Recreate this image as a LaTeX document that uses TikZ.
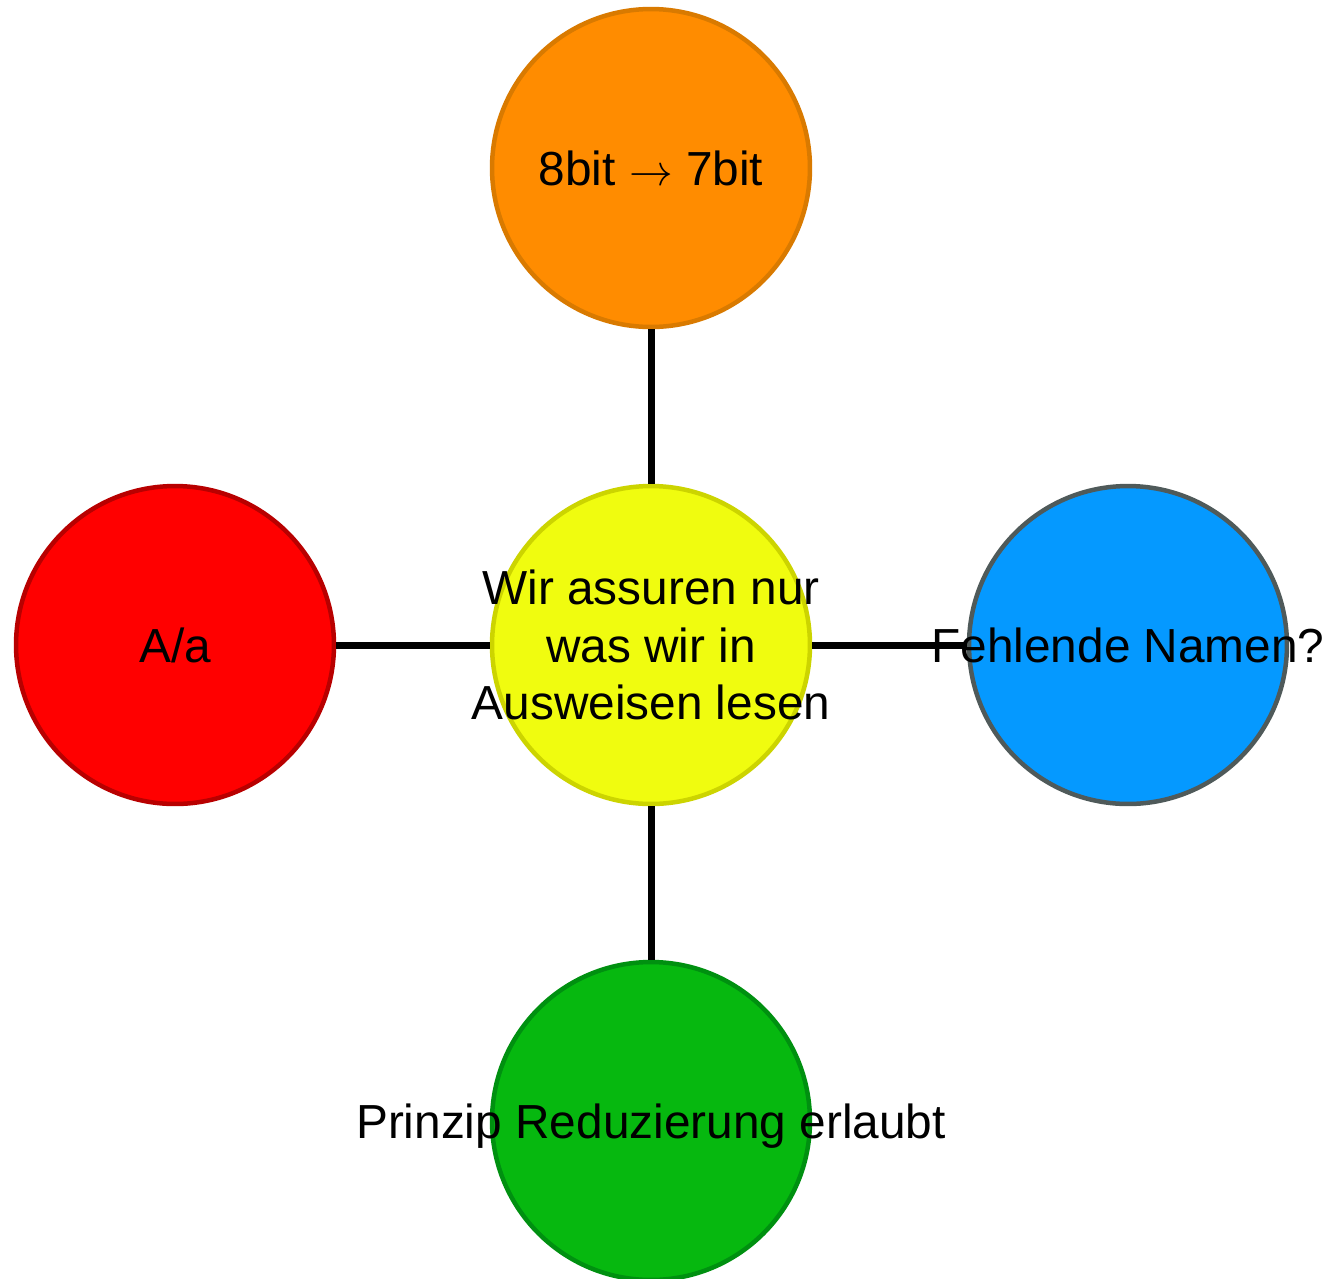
\documentclass[tikz,border=0pt]{standalone}
\usepackage{fontspec}
\setmainfont{Liberation Sans}
\definecolor{orangefill}{HTML}{FF8C00}
\definecolor{orangeline}{HTML}{D97A00}
\definecolor{redfill}{HTML}{FF0000}
\definecolor{redline}{HTML}{B80000}
\definecolor{yellowfill}{HTML}{F0FC0F}
\definecolor{yellowline}{HTML}{CCD400}
\definecolor{bluefill}{HTML}{0599FF}
\definecolor{blueline}{HTML}{4F5A5A}
\definecolor{greenfill}{HTML}{06B80F}
\definecolor{greenline}{HTML}{009010}

\begin{document}
\begin{tikzpicture}[x=0.02cm,y=-0.02cm,
  bubble/.style={circle,minimum size=6.36cm,inner sep=0pt,line width=0.09cm},
  txt/.style={font=\fontsize{27.2pt}{32.5pt}\selectfont,align=center},
  link/.style={line width=0.14cm}]
\useasboundingbox (0,0) rectangle (1330,1279);
\node (mid) [bubble,fill=yellowfill,draw=yellowline,label={[txt]center:Wir assuren nur\\was wir in\\Ausweisen lesen}] at (651,645) {} ;
\node (top) [bubble,fill=orangefill,draw=orangeline,label={[txt]center:8bit $\rightarrow$ 7bit}] at (651,168) {} ;
\node (left) [bubble,fill=redfill,draw=redline,label={[txt]center:A/a}] at (175,645) {} ;
\node (right) [bubble,fill=bluefill,draw=blueline,label={[txt]center:Fehlende Namen?}] at (1128,645) {} ;
\node (bottom) [bubble,fill=greenfill,draw=greenline,label={[txt,text depth=0pt]center:Prinzip Reduzierung erlaubt}] at (651,1121) {} ;
\draw[link] (mid) to (top) ;
\draw[link] (mid) to (left) ;
\draw[link] (mid) to (right) ;
\draw[link] (mid) to (bottom) ;
\end{tikzpicture}
\end{document}
